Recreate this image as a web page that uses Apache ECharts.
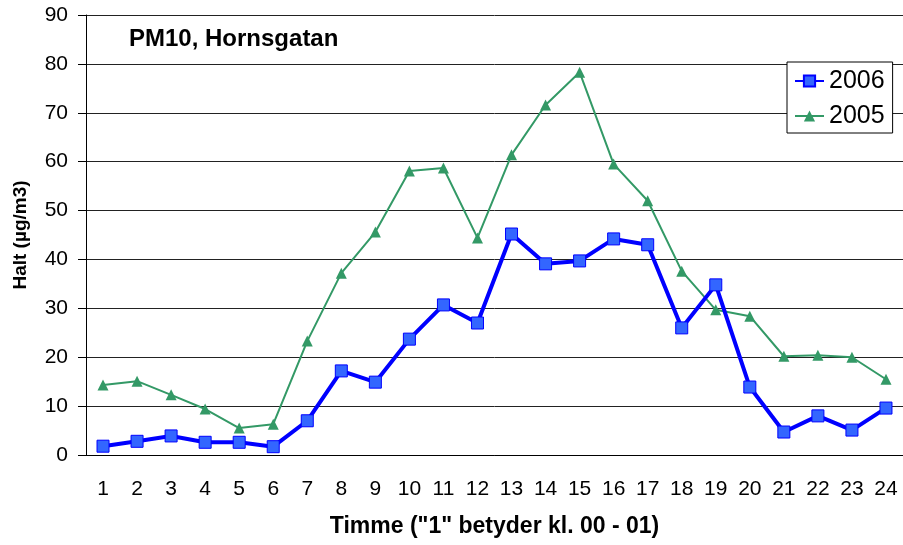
<!DOCTYPE html>
<html>
<head>
<meta charset="utf-8">
<title>PM10, Hornsgatan</title>
<script src="https://cdn.jsdelivr.net/npm/echarts@6/dist/echarts.min.js"></script>
<style>
	html, body { margin: 0; padding: 0; background: #fff; }
	#chart { width: 903px; height: 545px; }
</style>
</head>
<body>
<div id="chart"></div>
<script>
	// timmar 1..24
	const hours = ['1', '2', '3', '4', '5', '6', '7', '8', '9', '10', '11', '12',
		'13', '14', '15', '16', '17', '18', '19', '20', '21', '22', '23', '24']
	const pm2006 = [1.8, 2.8, 3.9, 2.6, 2.6, 1.7, 7.0, 17.2, 14.9, 23.7, 30.7, 27.0,
		45.2, 39.1, 39.7, 44.2, 43.0, 26.0, 34.8, 13.9, 4.7, 8.0, 5.1, 9.6]
	const pm2005 = [14.3, 15.1, 12.3, 9.4, 5.5, 6.3, 23.3, 37.2, 45.6, 58.1, 58.7, 44.4,
		61.4, 71.6, 78.3, 59.5, 52.0, 37.6, 29.7, 28.4, 20.2, 20.4, 20.0, 15.5]

	const font = "'Liberation Sans', Arial, sans-serif"
	const myChart = echarts.init(document.getElementById('chart'))

	const option = {
		animation: false,
		textStyle: { fontFamily: font },
		title: {
			text: 'PM10, Hornsgatan',
			left: 124,
			top: 22,
			textStyle: { fontFamily: font, fontSize: 24, fontWeight: 'bold', color: '#000' }
		},
		legend: {
			orient: 'vertical',
			left: 787,
			top: 62,
			padding: [5, 8, 3, 7],
			itemWidth: 29,
			itemHeight: 14,
			itemGap: 7,
			borderColor: '#000',
			borderWidth: 1,
			backgroundColor: '#fff',
			textStyle: { fontFamily: font, fontSize: 25, color: '#000', lineHeight: 28 },
			data: ['2006', '2005']
		},
		grid: {
			left: 86,
			right: 0,
			top: 15,
			bottom: 90
		},
		xAxis: {
			type: 'category',
			data: hours,
			name: 'Timme ("1" betyder kl. 00 - 01)',
			nameLocation: 'middle',
			nameGap: 60,
			nameTextStyle: { fontFamily: font, fontSize: 23, fontWeight: 'bold', color: '#000' },
			axisLine: { lineStyle: { color: '#000', width: 1 } },
			axisTick: { length: 8, lineStyle: { color: '#000' } },
			axisLabel: { fontFamily: font, fontSize: 21, color: '#000', margin: 24 }
		},
		yAxis: {
			type: 'value',
			min: 0,
			max: 90,
			interval: 10,
			name: 'Halt (µg/m3)',
			nameLocation: 'middle',
			nameGap: 56,
			nameTextStyle: { fontFamily: font, fontSize: 19, fontWeight: 'bold', color: '#000' },
			axisLine: { show: true, lineStyle: { color: '#000', width: 1 } },
			axisTick: { show: true, length: 8, lineStyle: { color: '#000' } },
			axisLabel: { fontFamily: font, fontSize: 21, color: '#000', margin: 18 },
			splitLine: { show: true, lineStyle: { color: '#222', width: 1 } }
		},
		series: [
			{
				name: '2006',
				type: 'line',
				data: pm2006,
				symbol: 'rect',
				symbolSize: 12,
				lineStyle: { color: '#0000ff', width: 4 },
				itemStyle: { color: '#3366ff', borderColor: '#0000ff', borderWidth: 1 },
				z: 3
			},
			{
				name: '2005',
				type: 'line',
				data: pm2005,
				symbol: 'triangle',
				symbolSize: 11,
				lineStyle: { color: '#339966', width: 2 },
				itemStyle: { color: '#339966', borderColor: '#339966', borderWidth: 0 },
				z: 2
			}
		]
	}

	myChart.setOption(option)
</script>
</body>
</html>
